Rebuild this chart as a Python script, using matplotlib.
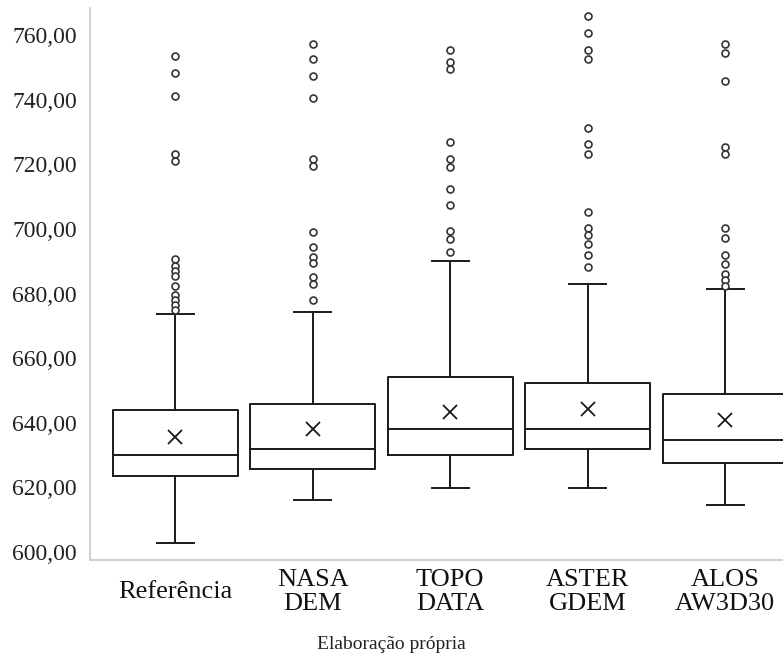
import matplotlib
matplotlib.use("Agg")
import matplotlib.pyplot as plt
from matplotlib.ticker import FuncFormatter

# Box plot of elevations per DEM
labels = ['Referência', 'NASA\nDEM', 'TOPO\nDATA', 'ASTER\nGDEM', 'ALOS\nAW3D30']
q1 = [623.5, 625.8, 629.9, 631.9, 627.6]
median = [629.9, 631.9, 638.0, 638.0, 634.6]
q3 = [643.9, 645.7, 654.2, 652.4, 648.9]
mean = [635.5, 638.2, 643.4, 644.4, 640.9]
whislo = [602.9, 616.0, 619.7, 619.7, 614.5]
whishi = [673.6, 674.2, 690.2, 683.0, 681.3]
outliers = [
    [753.6, 748.4, 741.3, 723.1, 721.0, 690.8, 688.6, 687.1, 685.5, 682.4, 679.5, 678.0, 676.4, 674.9],
    [757.3, 752.6, 747.4, 740.5, 721.5, 719.6, 699.0, 694.3, 691.4, 689.4, 685.2, 683.1, 678.0],
    [755.4, 751.7, 749.4, 727.0, 721.8, 719.1, 712.4, 707.4, 699.3, 696.8, 692.9],
    [765.8, 760.6, 755.5, 752.6, 731.2, 726.4, 723.2, 705.1, 700.4, 698.1, 695.2, 692.0, 688.3],
    [757.3, 754.4, 745.7, 725.3, 723.2, 700.4, 697.2, 692.0, 689.2, 686.0, 684.2, 682.4],
]

stats = []
for i, lab in enumerate(labels):
    stats.append({'label': lab, 'q1': q1[i], 'med': median[i], 'q3': q3[i],
                  'mean': mean[i], 'whislo': whislo[i], 'whishi': whishi[i],
                  'fliers': outliers[i]})

plt.rcParams['font.family'] = ['Liberation Serif', 'DejaVu Serif']

fig = plt.figure(figsize=(7.83, 6.56), dpi=100)
ax = fig.add_axes([0.115, 0.1463, 0.885, 0.8415])

line = dict(color='#1a1a1a', linewidth=1.4)
ax.bxp(stats, positions=range(len(labels)), widths=0.91, capwidths=0.27,
       showmeans=True, showfliers=True,
       boxprops=line, whiskerprops=line, capprops=line,
       medianprops=line,
       meanprops=dict(marker='x', markeredgecolor='#1a1a1a', markersize=10, markeredgewidth=1.3),
       flierprops=dict(marker='o', markerfacecolor='white', markeredgecolor='#333333',
                       markersize=5, markeredgewidth=1.2))

ax.set_xlim(-0.62, 4.42)
ax.set_ylim(597.5, 768.4)
ax.set_yticks([600, 620, 640, 660, 680, 700, 720, 740, 760])
ax.yaxis.set_major_formatter(FuncFormatter(lambda v, p: f'{v:.2f}'.replace('.', ',')))
ax.tick_params(axis='y', length=0, pad=9.5, labelsize=17, colors='#222222')
ax.set_xticks(range(len(labels)), labels=labels, linespacing=1.15, va='center')
ax.tick_params(axis='x', length=0, pad=23, labelsize=19, colors='#111111')

for s in ['top', 'right']:
    ax.spines[s].set_visible(False)
for s in ['left', 'bottom']:
    ax.spines[s].set_color('#c8c8c8')
    ax.spines[s].set_linewidth(1.2)

fig.text(0.5, 0.005, 'Elaboração própria', ha='center', va='bottom', fontsize=14, color='#222222')

fig.savefig('out.png', dpi=100)
